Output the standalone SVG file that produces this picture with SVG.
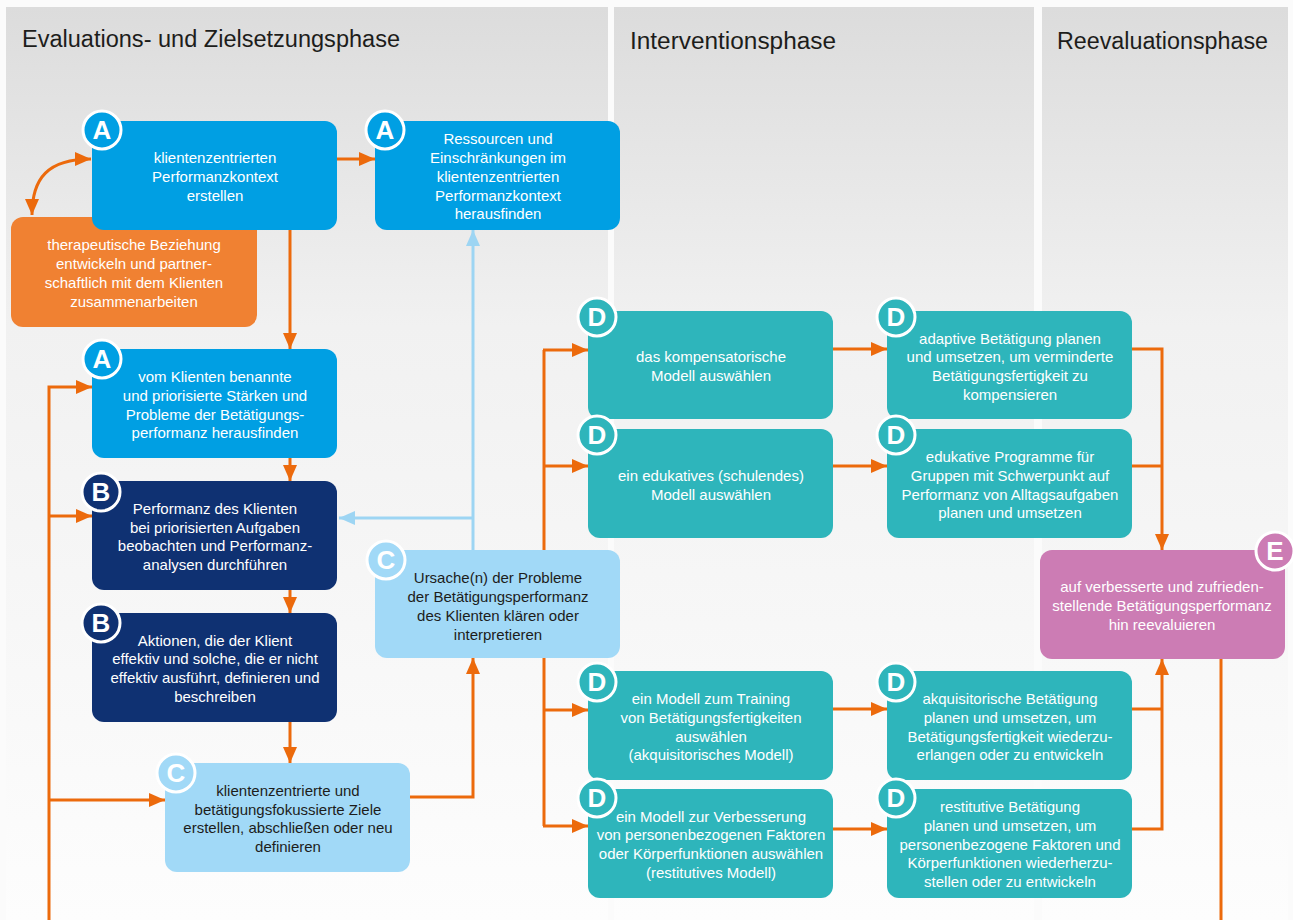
<svg xmlns="http://www.w3.org/2000/svg" width="1293" height="920" viewBox="0 0 1293 920">
<style>
.title{font-family:"Liberation Sans",Arial,sans-serif;font-size:23.5px;fill:#1d1d1b}
.t{font-family:"Liberation Sans",Arial,sans-serif;font-size:15px;text-anchor:middle}
.w{fill:#ffffff}
.k{fill:#1d1d1b}
.badge{stroke:#ffffff;stroke-width:3}
.bl{font-family:"Liberation Sans",Arial,sans-serif;font-size:26px;font-weight:bold;fill:#ffffff;text-anchor:middle}
.o{fill:none;stroke:#ec6a0c;stroke-width:3}
.lb{fill:none;stroke:#9dd5f3;stroke-width:3}
.cA{fill:#009fe3}.cB{fill:#0f3172}.cC{fill:#a1d9f7}.cD{fill:#2eb5bb}.cE{fill:#cc7cb4}.cO{fill:#f08132}
</style>
<defs>
<linearGradient id="bg" x1="0" y1="0" x2="0" y2="1">
<stop offset="0" stop-color="#dcdcdc"/>
<stop offset="0.35" stop-color="#f1f1f1"/>
<stop offset="1" stop-color="#fdfdfd"/>
</linearGradient>
<marker id="ao" markerUnits="userSpaceOnUse" markerWidth="16" markerHeight="14" refX="16" refY="7" orient="auto-start-reverse"><path d="M0,0 L16,7 L0,14 z" fill="#ec6a0c"/></marker>
<marker id="ab" markerUnits="userSpaceOnUse" markerWidth="16" markerHeight="14" refX="16" refY="7" orient="auto-start-reverse"><path d="M0,0 L16,7 L0,14 z" fill="#9dd5f3"/></marker>
</defs>
<rect x="0" y="0" width="1293" height="920" fill="#fbfbfb"/>
<g id="background">
<rect x="6" y="7" width="602" height="913" fill="url(#bg)"/>
<rect x="614" y="7" width="420" height="913" fill="url(#bg)"/>
<rect x="1042" y="7" width="246" height="913" fill="url(#bg)"/>
<text class="title" x="22" y="47" textLength="378" lengthAdjust="spacingAndGlyphs">Evaluations- und Zielsetzungsphase</text>
<text class="title" x="630" y="49" textLength="206" lengthAdjust="spacingAndGlyphs">Interventionsphase</text>
<text class="title" x="1057" y="49" textLength="211" lengthAdjust="spacingAndGlyphs">Reevaluationsphase</text>
</g>
<g id="connectors">
<path class="o" d="M32,215 C32,178 48,159 91,159" marker-start="url(#ao)" marker-end="url(#ao)"/>
<path class="o" d="M337,159 L375,159" marker-end="url(#ao)"/>
<path class="o" d="M290,230 L290,349" marker-end="url(#ao)"/>
<path class="o" d="M290,458 L290,481" marker-end="url(#ao)"/>
<path class="o" d="M290,590 L290,613" marker-end="url(#ao)"/>
<path class="o" d="M290,722 L290,763" marker-end="url(#ao)"/>
<path class="o" d="M49,920 L49,387 L92,387" marker-end="url(#ao)"/>
<path class="o" d="M49,516 L92,516" marker-end="url(#ao)"/>
<path class="o" d="M49,800 L165,800" marker-end="url(#ao)"/>
<path class="o" d="M410,797 L473,797 L473,658" marker-end="url(#ao)"/>
<path class="lb" d="M473,550 L473,230" marker-end="url(#ab)"/>
<path class="lb" d="M473,518 L339,518" marker-end="url(#ab)"/>
<path class="o" d="M544,350 L544,826"/>
<path class="o" d="M543,350 L588,350" marker-end="url(#ao)"/>
<path class="o" d="M543,466 L588,466" marker-end="url(#ao)"/>
<path class="o" d="M543,710 L588,710" marker-end="url(#ao)"/>
<path class="o" d="M543,826 L588,826" marker-end="url(#ao)"/>
<path class="o" d="M833,349 L887,349" marker-end="url(#ao)"/>
<path class="o" d="M833,466 L887,466" marker-end="url(#ao)"/>
<path class="o" d="M833,709 L887,709" marker-end="url(#ao)"/>
<path class="o" d="M833,829 L887,829" marker-end="url(#ao)"/>
<path class="o" d="M1132,349 L1162,349 L1162,550" marker-end="url(#ao)"/>
<path class="o" d="M1132,466 L1163,466"/>
<path class="o" d="M1132,829 L1162,829 L1162,659" marker-end="url(#ao)"/>
<path class="o" d="M1132,709 L1163,709"/>
<path class="o" d="M1221,659 L1221,920"/>
</g>
<g id="node-orange">
<rect class="cO" x="11" y="217" width="246" height="110" rx="12"/>
<text class="t w"><tspan x="134" y="250">therapeutische Beziehung</tspan><tspan x="134" y="269">entwickeln und partner-</tspan><tspan x="134" y="288">schaftlich mit dem Klienten</tspan><tspan x="134" y="307">zusammenarbeiten</tspan></text>
</g>
<g id="node-A1">
<rect class="cA" x="92" y="121" width="245" height="109" rx="12"/>
<circle class="cA badge" cx="102" cy="130" r="19"/>
<text class="bl" x="102" y="139">A</text>
<text class="t w"><tspan x="215" y="163">klientenzentrierten</tspan><tspan x="215" y="182">Performanzkontext</tspan><tspan x="215" y="201">erstellen</tspan></text>
</g>
<g id="node-A2">
<rect class="cA" x="375" y="121" width="245" height="109" rx="12"/>
<circle class="cA badge" cx="385" cy="130" r="19"/>
<text class="bl" x="385" y="139">A</text>
<text class="t w"><tspan x="498" y="144">Ressourcen und</tspan><tspan x="498" y="163">Einschränkungen im</tspan><tspan x="498" y="182">klientenzentrierten</tspan><tspan x="498" y="201">Performanzkontext</tspan><tspan x="498" y="219">herausfinden</tspan></text>
</g>
<g id="node-A3">
<rect class="cA" x="92" y="349" width="245" height="109" rx="12"/>
<circle class="cA badge" cx="102" cy="359" r="19"/>
<text class="bl" x="102" y="368">A</text>
<text class="t w"><tspan x="215" y="382">vom Klienten benannte</tspan><tspan x="215" y="401">und priorisierte Stärken und</tspan><tspan x="215" y="420">Probleme der Betätigungs-</tspan><tspan x="215" y="438">performanz herausfinden</tspan></text>
</g>
<g id="node-B1">
<rect class="cB" x="92" y="481" width="245" height="109" rx="12"/>
<circle class="cB badge" cx="101" cy="492" r="19"/>
<text class="bl" x="101" y="501">B</text>
<text class="t w"><tspan x="215" y="514">Performanz des Klienten</tspan><tspan x="215" y="533">bei priorisierten Aufgaben</tspan><tspan x="215" y="551">beobachten und Performanz-</tspan><tspan x="215" y="570">analysen durchführen</tspan></text>
</g>
<g id="node-B2">
<rect class="cB" x="92" y="613" width="245" height="109" rx="12"/>
<circle class="cB badge" cx="101" cy="623" r="19"/>
<text class="bl" x="101" y="632">B</text>
<text class="t w"><tspan x="215" y="646">Aktionen, die der Klient</tspan><tspan x="215" y="664">effektiv und solche, die er nicht</tspan><tspan x="215" y="683">effektiv ausführt, definieren und</tspan><tspan x="215" y="702">beschreiben</tspan></text>
</g>
<g id="node-C1">
<rect class="cC" x="165" y="763" width="245" height="109" rx="12"/>
<circle class="cC badge" cx="176" cy="773" r="19"/>
<text class="bl" x="176" y="782">C</text>
<text class="t k"><tspan x="288" y="796">klientenzentrierte und</tspan><tspan x="288" y="815">betätigungsfokussierte Ziele</tspan><tspan x="288" y="833">erstellen, abschließen oder neu</tspan><tspan x="288" y="852">definieren</tspan></text>
</g>
<g id="node-C2">
<rect class="cC" x="375" y="550" width="245" height="108" rx="12"/>
<circle class="cC badge" cx="386" cy="560" r="19"/>
<text class="bl" x="386" y="569">C</text>
<text class="t k"><tspan x="498" y="583">Ursache(n) der Probleme</tspan><tspan x="498" y="602">der Betätigungsperformanz</tspan><tspan x="498" y="621">des Klienten klären oder</tspan><tspan x="498" y="640">interpretieren</tspan></text>
</g>
<g id="node-D1">
<rect class="cD" x="588" y="311" width="245" height="108" rx="12"/>
<circle class="cD badge" cx="597" cy="317" r="19"/>
<text class="bl" x="597" y="326">D</text>
<text class="t w"><tspan x="711" y="362">das kompensatorische</tspan><tspan x="711" y="381">Modell auswählen</tspan></text>
</g>
<g id="node-D2">
<rect class="cD" x="588" y="429" width="245" height="109" rx="12"/>
<circle class="cD badge" cx="597" cy="435" r="19"/>
<text class="bl" x="597" y="444">D</text>
<text class="t w"><tspan x="711" y="481">ein edukatives (schulendes)</tspan><tspan x="711" y="500">Modell auswählen</tspan></text>
</g>
<g id="node-D3">
<rect class="cD" x="887" y="311" width="245" height="108" rx="12"/>
<circle class="cD badge" cx="896" cy="317" r="19"/>
<text class="bl" x="896" y="326">D</text>
<text class="t w"><tspan x="1010" y="344">adaptive Betätigung planen</tspan><tspan x="1010" y="362">und umsetzen, um verminderte</tspan><tspan x="1010" y="381">Betätigungsfertigkeit zu</tspan><tspan x="1010" y="400">kompensieren</tspan></text>
</g>
<g id="node-D4">
<rect class="cD" x="887" y="429" width="245" height="109" rx="12"/>
<circle class="cD badge" cx="896" cy="435" r="19"/>
<text class="bl" x="896" y="444">D</text>
<text class="t w"><tspan x="1010" y="462">edukative Programme für</tspan><tspan x="1010" y="481">Gruppen mit Schwerpunkt auf</tspan><tspan x="1010" y="500">Performanz von Alltagsaufgaben</tspan><tspan x="1010" y="518">planen und umsetzen</tspan></text>
</g>
<g id="node-E">
<rect class="cE" x="1040" y="550" width="245" height="109" rx="12"/>
<circle class="cE badge" cx="1275" cy="551" r="19"/>
<text class="bl" x="1275" y="560">E</text>
<text class="t w"><tspan x="1162" y="592">auf verbesserte und zufrieden-</tspan><tspan x="1162" y="611">stellende Betätigungsperformanz</tspan><tspan x="1162" y="630">hin reevaluieren</tspan></text>
</g>
<g id="node-D5">
<rect class="cD" x="588" y="671" width="245" height="109" rx="12"/>
<circle class="cD badge" cx="597" cy="682" r="19"/>
<text class="bl" x="597" y="691">D</text>
<text class="t w"><tspan x="711" y="704">ein Modell zum Training</tspan><tspan x="711" y="723">von Betätigungsfertigkeiten</tspan><tspan x="711" y="742">auswählen</tspan><tspan x="711" y="760">(akquisitorisches Modell)</tspan></text>
</g>
<g id="node-D6">
<rect class="cD" x="588" y="789" width="245" height="109" rx="12"/>
<circle class="cD badge" cx="597" cy="798" r="19"/>
<text class="bl" x="597" y="807">D</text>
<text class="t w"><tspan x="711" y="822">ein Modell zur Verbesserung</tspan><tspan x="711" y="840">von personenbezogenen Faktoren</tspan><tspan x="711" y="859">oder Körperfunktionen auswählen</tspan><tspan x="711" y="878">(restitutives Modell)</tspan></text>
</g>
<g id="node-D7">
<rect class="cD" x="887" y="671" width="245" height="109" rx="12"/>
<circle class="cD badge" cx="896" cy="682" r="19"/>
<text class="bl" x="896" y="691">D</text>
<text class="t w"><tspan x="1010" y="704">akquisitorische Betätigung</tspan><tspan x="1010" y="723">planen und umsetzen, um</tspan><tspan x="1010" y="742">Betätigungsfertigkeit wiederzu-</tspan><tspan x="1010" y="760">erlangen oder zu entwickeln</tspan></text>
</g>
<g id="node-D8">
<rect class="cD" x="887" y="789" width="245" height="109" rx="12"/>
<circle class="cD badge" cx="896" cy="798" r="19"/>
<text class="bl" x="896" y="807">D</text>
<text class="t w"><tspan x="1010" y="812">restitutive Betätigung</tspan><tspan x="1010" y="831">planen und umsetzen, um</tspan><tspan x="1010" y="850">personenbezogene Faktoren und</tspan><tspan x="1010" y="868">Körperfunktionen wiederherzu-</tspan><tspan x="1010" y="887">stellen oder zu entwickeln</tspan></text>
</g>
</svg>
